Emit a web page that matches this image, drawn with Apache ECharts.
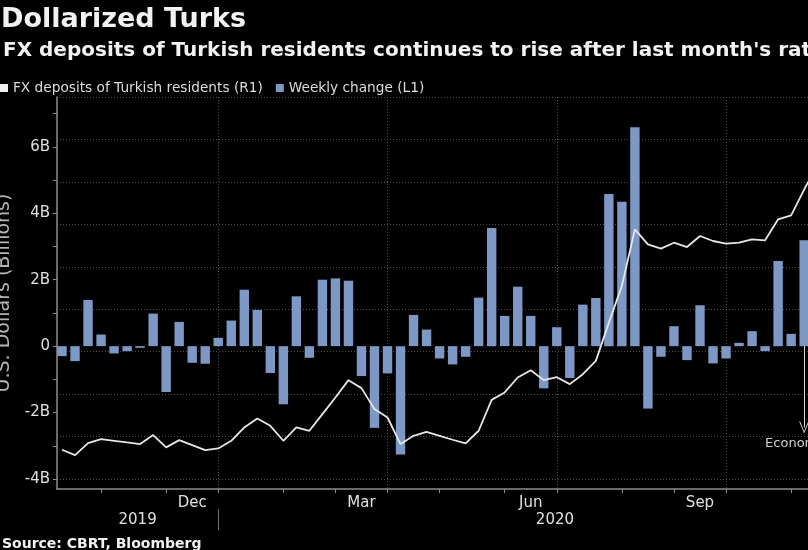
<!DOCTYPE html>
<html><head><meta charset="utf-8">
<script src="https://cdn.jsdelivr.net/npm/echarts@6/dist/echarts.min.js"></script>
<style>html,body{margin:0;padding:0;background:#000;}#c{width:808px;height:550px;}</style>
</head><body><div id="c"></div>
<script>
// Weekly observation dates (Fridays)
const weeks = [
'2019-10-11','2019-10-18','2019-10-25','2019-11-01','2019-11-08','2019-11-15','2019-11-22','2019-11-29',
'2019-12-06','2019-12-13','2019-12-20','2019-12-27','2020-01-03','2020-01-10','2020-01-17','2020-01-24',
'2020-01-31','2020-02-07','2020-02-14','2020-02-21','2020-02-28','2020-03-06','2020-03-13','2020-03-20',
'2020-03-27','2020-04-03','2020-04-10','2020-04-17','2020-04-24','2020-05-01','2020-05-08','2020-05-15',
'2020-05-22','2020-05-29','2020-06-05','2020-06-12','2020-06-19','2020-06-26','2020-07-03','2020-07-10',
'2020-07-17','2020-07-24','2020-07-31','2020-08-07','2020-08-14','2020-08-21','2020-08-28','2020-09-04',
'2020-09-11','2020-09-18','2020-09-25','2020-10-02','2020-10-09','2020-10-16','2020-10-23','2020-10-30',
'2020-11-06','2020-11-13','2020-11-20'];
// Weekly change, USD billions (L1)
const weeklyChange = [
-0.30,-0.45,1.39,0.35,-0.22,-0.15,-0.05,0.98,
-1.38,0.73,-0.50,-0.53,0.25,0.77,1.70,1.09,
-0.81,-1.75,1.50,-0.35,2.00,2.04,1.97,-0.90,
-2.46,-0.82,-3.26,0.94,0.50,-0.37,-0.55,-0.32,
1.46,3.56,0.91,1.79,0.91,-1.27,0.57,-0.96,
1.25,1.45,4.58,4.35,6.59,-1.88,-0.32,0.60,
-0.42,1.23,-0.52,-0.37,0.10,0.45,-0.15,2.56,
0.37,3.19,null];
// FX deposits of Turkish residents, USD billions (R1)
const fxDeposits = [
193.45,192.82,194.24,194.71,194.51,194.31,194.12,195.18,
193.73,194.59,194.00,193.41,193.61,194.51,196.08,197.14,
196.27,194.51,196.08,195.69,197.65,199.61,201.65,200.71,
198.24,197.25,194.12,195.10,195.57,195.10,194.63,194.20,
195.69,199.33,200.20,201.96,202.82,201.65,202.00,201.18,
202.35,203.92,208.43,212.75,219.41,217.65,217.14,217.84,
217.33,218.63,218.04,217.73,217.84,218.24,218.12,220.59,
221.06,224.10,227.00];
const monthNames = ['Jan','Feb','Mar','Apr','May','Jun','Jul','Aug','Sep','Oct','Nov','Dec'];
const labeledMonths = ['Dec','Mar','Jun','Sep'];
const leftTickLabels = [-4,-2,0,2,4,6];
const leftMinorTicks = [-4,-3,-2,-1,0,1,2,3,4,5,6,7];
const rightTicks = [190,195,200,205,210,215,220,225,230,235];
const seriesNames = ['FX deposits of Turkish residents (R1)','Weekly change (L1)'];
const eventLabel = 'Economy chief resigns';
const eventWeek = '2020-11-13';

const monthOf = s => +s.slice(5,7) - 1;
const yearOf = s => s.slice(0,4);
const monthStarts = [];
for (let i = 1; i < weeks.length; i++) if (monthOf(weeks[i]) !== monthOf(weeks[i-1])) monthStarts.push(i);
const quarterStarts = monthStarts.filter(i => monthOf(weeks[i]) % 3 === 0);
const monthLabelPos = [];
for (let k = 0; k < monthStarts.length - 1; k++) {
  const a = monthStarts[k], b = monthStarts[k+1];
  if (labeledMonths.indexOf(monthNames[monthOf(weeks[a])]) >= 0) monthLabelPos.push((a+b)/2);
}
const yearStarts = [];
for (let i = 1; i < weeks.length; i++) if (yearOf(weeks[i]) !== yearOf(weeks[i-1])) yearStarts.push(i);

const X_MIN = -0.384, X_MAX = 64.36;
const yearLabelPos = [(X_MIN + yearStarts[0]) / 2, 37.86];
const eventIdx = weeks.indexOf(eventWeek);

const FONT = 'DejaVu Sans';
const dotted = {color:'#4d4d4d', type:[1,2], width:1};
const GRID = {left:57, top:97, width:843, height:392};

const chart = echarts.init(document.getElementById('c'), null, {renderer:'canvas'});
chart.setOption({
  backgroundColor:'#000',
  animation:false,
  textStyle:{fontFamily:FONT},
  title:[
    {text:'Dollarized Turks', left:-4, top:1, textStyle:{color:'#f2f2f2', fontSize:27, fontWeight:'bold', fontFamily:FONT}},
    {text:"FX deposits of Turkish residents continues to rise after last month's rate hike", left:-2, top:36, textStyle:{color:'#f2f2f2', fontSize:20, fontWeight:'bold', fontFamily:FONT}},
    {text:'Source: CBRT, Bloomberg', left:-3, top:532, textStyle:{color:'#f2f2f2', fontSize:14, fontWeight:'bold', fontFamily:FONT}}
  ],
  legend:{
    left:-5, top:76, itemWidth:8, itemHeight:8, itemGap:13,
    textStyle:{color:'#dcdcdc', fontSize:13.7, fontFamily:FONT},
    data:[{name:seriesNames[0], icon:'rect', itemStyle:{color:'#f0f0f0'}},
          {name:seriesNames[1], icon:'rect', itemStyle:{color:'#7e98c6'}}]
  },
  grid:Object.assign({outerBoundsMode:'none', containLabel:false}, GRID),
  xAxis:[
    {type:'value', min:X_MIN, max:X_MAX, position:'bottom',
     axisLine:{show:true, onZero:false, lineStyle:{color:'#8c8c8c', width:1.5}},
     axisTick:{show:true, customValues:monthStarts, length:4, lineStyle:{color:'#8c8c8c'}},
     axisLabel:{show:true, customValues:monthLabelPos, margin:7, color:'#e0e0e0', fontSize:15, fontFamily:FONT,
       formatter:v => monthNames[monthOf(weeks[Math.round(v)])]},
     splitLine:{show:false}},
    {type:'value', min:X_MIN, max:X_MAX, position:'bottom',
     axisLine:{show:false, onZero:false}, axisTick:{show:false, customValues:quarterStarts},
     axisLabel:{show:false}, splitLine:{show:true, lineStyle:dotted}},
    {type:'value', min:X_MIN, max:X_MAX, position:'bottom', offset:20,
     axisLine:{show:false, onZero:false},
     axisTick:{show:true, customValues:yearStarts, length:21, lineStyle:{color:'#6e6e6e'}},
     axisLabel:{show:true, customValues:yearLabelPos, margin:4, color:'#e0e0e0', fontSize:15, fontFamily:FONT,
       formatter:v => yearOf(weeks[Math.round(v)])},
     splitLine:{show:false}}
  ],
  yAxis:[
    {type:'value', min:-4.3, max:7.5, position:'left',
     name:'U.S. Dollars (Billions)', nameLocation:'middle', nameGap:40,
     nameTextStyle:{color:'#b4b4b4', fontSize:19, fontFamily:FONT},
     axisLine:{show:true, onZero:false, lineStyle:{color:'#8c8c8c', width:1.5}},
     axisTick:{show:true, customValues:leftMinorTicks, length:4, lineStyle:{color:'#8c8c8c'}},
     axisLabel:{show:true, customValues:leftTickLabels, margin:7, color:'#e0e0e0', fontSize:15, fontFamily:FONT,
       formatter:v => v === 0 ? '0' : v + 'B'},
     splitLine:{show:false}},
    {type:'value', min:188.83, max:235, position:'right',
     axisLine:{show:false, onZero:false}, axisTick:{show:false, customValues:rightTicks},
     axisLabel:{show:false}, splitLine:{show:true, lineStyle:dotted}}
  ],
  series:[
    {name:seriesNames[1], type:'bar', xAxisIndex:0, yAxisIndex:0, barWidth:9.4, z:2,
     itemStyle:{color:'#7e98c6'},
     data:weeklyChange.map((v,i) => [i, v]),
     markLine:{silent:true, symbol:['none','path://M5,0 L10,11 L9,11 L5,2 L1,11 L0,11 Z'], symbolSize:[10,12],
       lineStyle:{color:'#d8d8d8', width:1, type:'solid'}, label:{show:false},
       data:[[{coord:[eventIdx, 0]}, {coord:[eventIdx, -2.45]}]]},
     markPoint:{silent:true, symbol:'circle', symbolSize:0,
       label:{show:true, position:'right', distance:0, color:'#d0d0d0', fontSize:13, fontFamily:FONT, formatter:eventLabel},
       data:[{coord:[eventIdx - 3, -2.92]}]}
    },
    {name:seriesNames[0], type:'line', xAxisIndex:0, yAxisIndex:1, z:3, symbol:'none',
     itemStyle:{color:'#f0f0f0'}, lineStyle:{color:'#e6e6e6', width:1.8},
     data:fxDeposits.map((v,i) => [i, v])}
  ]
});
</script></body></html>
